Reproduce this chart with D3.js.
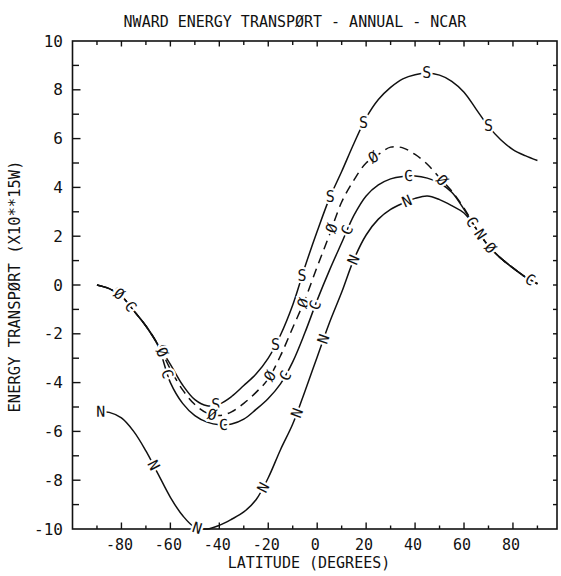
<!DOCTYPE html>
<html>
<head>
<meta charset="utf-8">
<script src="https://cdn.jsdelivr.net/npm/d3@7"></script>
<style>
  body { margin: 0; background: #fff; }
  text { font-family: "DejaVu Sans Mono", monospace; fill: #111; }
</style>
</head>
<body>
<svg id="chart" width="561" height="576"></svg>
<script>
// Latitude grid (degrees) shared by all curves
const latitudes = d3.range(-90, 91, 5);

// Northward energy transport (10**15 W) per curve
const seriesS = [0.0, -0.15, -0.45, -1.05, -1.68, -2.45, -3.25, -4.1, -4.7, -4.95, -4.88, -4.57, -4.12, -3.65, -3.0, -2.05, -0.82, 0.75, 2.2, 3.55, 4.65, 5.8, 6.85, 7.6, 8.1, 8.45, 8.62, 8.68, 8.6, 8.35, 7.9, 7.2, 6.5, 5.95, 5.55, 5.3, 5.1];
const seriesO = [0.0, -0.15, -0.45, -1.05, -1.68, -2.45, -3.45, -4.3, -4.9, -5.25, -5.35, -5.2, -4.85, -4.4, -3.85, -2.9, -1.75, -0.6, 0.75, 2.05, 3.4, 4.3, 5.0, 5.35, 5.65, 5.62, 5.35, 4.95, 4.4, 3.85, 3.15, 2.3, 1.6, 1.1, 0.7, 0.33, 0.05];
const seriesC = [0.0, -0.15, -0.45, -1.05, -1.68, -2.5, -4.0, -4.85, -5.35, -5.62, -5.73, -5.7, -5.5, -5.1, -4.65, -4.05, -3.15, -1.95, -0.62, 0.6, 1.73, 2.85, 3.65, 4.1, 4.35, 4.45, 4.47, 4.38, 4.18, 3.8, 3.1, 2.3, 1.6, 1.1, 0.7, 0.33, 0.05];
const seriesN = [-5.2, -5.22, -5.45, -6.0, -6.8, -7.75, -8.7, -9.45, -9.93, -10.0, -9.85, -9.6, -9.3, -8.8, -7.9, -6.75, -5.7, -4.35, -2.95, -1.55, -0.3, 1.05, 2.05, 2.7, 3.1, 3.35, 3.55, 3.65, 3.5, 3.25, 2.95, 2.3, 1.6, 1.1, 0.7, 0.33, 0.05];

// Latitudes where each curve carries its identifying letter
const labelLatS = [-81, -63, -41.5, -17, -6.2, 5.3, 18.9, 44.8, 70];
const labelLatO = [-81, -63.4, -43, -19.2, -5.6, 6, 23, 51, 70.7];
const labelLatC = [-76.3, -61.3, -38.3, -13, -0.8, 12.2, 37.3, 63.2, 87];
const labelLatN = [-88.5, -66.9, -49.1, -22, -8.2, 2.6, 14.9, 36.7, 66.6];

const seriesNames = ["S", "Ø", "C", "N"];

// Axis ticks and labels
const xMinorTicks = d3.range(-90, 91, 10);
const xTickLabels = [-80, -60, -40, -20, 0, 20, 40, 60, 80];
const yMinorTicks = d3.range(-9, 10, 1);
const yTickLabels = [-10, -8, -6, -4, -2, 0, 2, 4, 6, 8, 10];

const titleText = "NWARD ENERGY TRANSPØRT - ANNUAL - NCAR";
const xTitle = "LATITUDE (DEGREES)";
const yTitle = "ENERGY TRANSPØRT (X10**15W)";

const series = [
  { name: seriesNames[0], values: seriesS, labels: labelLatS, dash: null, rotate: false },
  { name: seriesNames[1], values: seriesO, labels: labelLatO, dash: "9,6", rotate: true },
  { name: seriesNames[2], values: seriesC, labels: labelLatC, dash: null, rotate: true },
  { name: seriesNames[3], values: seriesN, labels: labelLatN, dash: null, rotate: true }
];

const svg = d3.select("#chart");
const plotLeft = 72.5, plotRight = 557, plotTop = 41, plotBottom = 529;

const x = d3.scaleLinear().domain([-100, 98]).range([plotLeft, plotRight]);
const y = d3.scaleLinear().domain([-10, 10]).range([plotBottom, plotTop]);

const ink = "#111";

// Frame
svg.append("rect")
  .attr("x", plotLeft).attr("y", plotTop)
  .attr("width", plotRight - plotLeft).attr("height", plotBottom - plotTop)
  .attr("fill", "none").attr("stroke", ink).attr("stroke-width", 1.6);

// Tick marks drawn inward on all four sides
function isMajorX(v) { return xTickLabels.includes(v); }
function isMajorY(v) { return yTickLabels.includes(v); }

const tickG = svg.append("g").attr("stroke", ink).attr("stroke-width", 1.4);
xMinorTicks.forEach(v => {
  const xx = x(v);
  tickG.append("line").attr("x1", xx).attr("x2", xx)
    .attr("y1", plotBottom).attr("y2", plotBottom - (isMajorX(v) ? 6.5 : 3.5));
  tickG.append("line").attr("x1", xx).attr("x2", xx)
    .attr("y1", plotTop).attr("y2", plotTop + (isMajorX(v) ? 5.5 : 4));
});
yMinorTicks.forEach(v => {
  const yy = y(v);
  tickG.append("line").attr("x1", plotLeft).attr("x2", plotLeft + (isMajorY(v) ? 8 : 6.5))
    .attr("y1", yy).attr("y2", yy);
  tickG.append("line").attr("x1", plotRight).attr("x2", plotRight - 4)
    .attr("y1", yy).attr("y2", yy);
});

// Tick labels
svg.append("g").selectAll("text").data(xTickLabels).join("text")
  .attr("x", d => x(d) - 2).attr("y", 550)
  .attr("text-anchor", "middle").attr("font-size", 15)
  .text(d => d < 0 ? "-" + Math.abs(d) : String(d));

svg.append("g").selectAll("text").data(yTickLabels).join("text")
  .attr("x", 63).attr("y", d => y(d))
  .attr("text-anchor", "end").attr("dominant-baseline", "central")
  .attr("font-size", 16)
  .text(d => d < 0 ? "-" + Math.abs(d) : String(d));

// Titles
svg.append("text").attr("x", 295).attr("y", 27)
  .attr("text-anchor", "middle").attr("font-size", 15)
  .attr("transform", "translate(0,-2.7) scale(1,1.1)")
  .text(titleText);

svg.append("text").attr("x", 309).attr("y", 568)
  .attr("text-anchor", "middle").attr("font-size", 15)
  .text(xTitle);

svg.append("text")
  .attr("transform", "translate(20,286.5) rotate(-90)")
  .attr("text-anchor", "middle").attr("font-size", 15.5)
  .text(yTitle);

// Curves
const line = d3.line()
  .x((d, i) => x(latitudes[i]))
  .y(d => y(d))
  .curve(d3.curveCatmullRom.alpha(0.5));

const curveG = svg.append("g");
const labelG = svg.append("g");

series.forEach(s => {
  const path = curveG.append("path")
    .attr("d", line(s.values))
    .attr("fill", "none")
    .attr("stroke", ink)
    .attr("stroke-width", 1.5)
    .attr("stroke-dasharray", s.dash);
  s.node = path.node();
});

// Place each letter on its curve, found by searching the path for the latitude's x
function lengthAtX(node, xt) {
  let lo = 0, hi = node.getTotalLength();
  for (let i = 0; i < 40; i++) {
    const mid = (lo + hi) / 2;
    if (node.getPointAtLength(mid).x < xt) lo = mid; else hi = mid;
  }
  return (lo + hi) / 2;
}

series.forEach(s => {
  const total = s.node.getTotalLength();
  s.labels.forEach(lat => {
    const l = lengthAtX(s.node, x(lat));
    const p = s.node.getPointAtLength(l);
    const p1 = s.node.getPointAtLength(Math.max(0, l - 3));
    const p2 = s.node.getPointAtLength(Math.min(total, l + 3));
    const ang = s.rotate ? Math.atan2(p2.y - p1.y, p2.x - p1.x) * 180 / Math.PI : 0;
    labelG.append("text")
      .attr("transform", `translate(${p.x},${p.y}) rotate(${ang})`)
      .attr("text-anchor", "middle")
      .attr("dominant-baseline", "central")
      .attr("font-size", 15)
      .attr("stroke", "#fff").attr("stroke-width", 4.5)
      .attr("paint-order", "stroke")
      .text(s.name);
  });
});
</script>
</body>
</html>
